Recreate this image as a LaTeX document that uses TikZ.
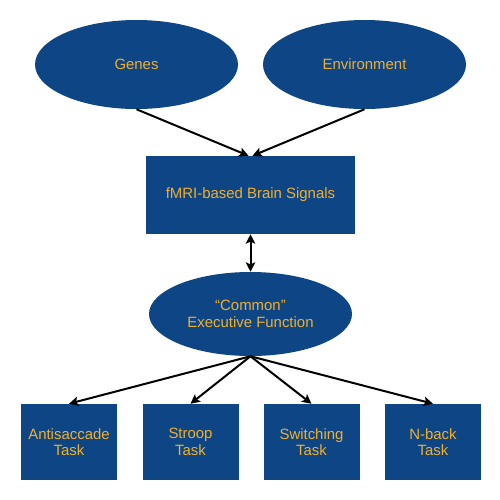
\documentclass[tikz,border=0pt]{standalone}
\usepackage{fontspec}
\setmainfont{Liberation Sans}
\usetikzlibrary{shapes.geometric,arrows.meta}
\definecolor{boxblue}{HTML}{0E4584}
\definecolor{txtgold}{HTML}{F0B02E}
\tikzset{
  ell/.style={ellipse,fill=boxblue,draw=none,inner sep=0pt,text=txtgold,align=center,font=\fontsize{11.2}{12.3}\selectfont},
  rbox/.style={rectangle,fill=boxblue,draw=none,inner sep=0pt,text=txtgold,align=center,font=\fontsize{11.2}{12.3}\selectfont},
  conn/.style={line width=1.5pt,-{Stealth[length=7pt,width=7pt,inset=1.5pt]}},
  dconn/.style={line width=1.5pt,{Stealth[length=7pt,width=7pt,inset=1.5pt]}-{Stealth[length=7pt,width=7pt,inset=1.5pt]}}
}
\begin{document}
\begin{tikzpicture}[x=0.75pt,y=-0.75pt]
\useasboundingbox[fill=white] (0,0) rectangle (500,500);
\node[ell,minimum width=152.25pt,minimum height=66.75pt] (g) at (136.5,64.5) {Genes};
\node[ell,minimum width=152.25pt,minimum height=66.75pt] (e) at (364.5,64.5) {Environment};
\node[rbox,minimum width=156.75pt,minimum height=58.5pt] (f) at (250.5,195) {fMRI-based Brain Signals};
\node[ell,minimum width=152.25pt,minimum height=63pt] (c) at (250.5,314) {``Common''\\Executive Function};
\node[rbox,minimum width=72pt,minimum height=57pt] (t1) at (69,442) {Antisaccade\\Task};
\node[rbox,minimum width=72pt,minimum height=57pt] (t2) at (190.5,442) {Stroop\\Task};
\node[rbox,minimum width=72pt,minimum height=57pt] (t3) at (311.5,442) {Switching\\Task};
\node[rbox,minimum width=72pt,minimum height=57pt] (t4) at (433,442) {N-back\\Task};
\draw[conn] (g.south) -- ([xshift=-1.5pt]f.north);
\draw[conn] (e.south) -- ([xshift=1.5pt]f.north);
\draw[dconn] (f.south) -- (c.north);
\draw[conn] (c.south) -- (t1.north);
\draw[conn] (c.south) -- (t2.north);
\draw[conn] (c.south) -- (t3.north);
\draw[conn] (c.south) -- (t4.north);
\end{tikzpicture}
\end{document}
